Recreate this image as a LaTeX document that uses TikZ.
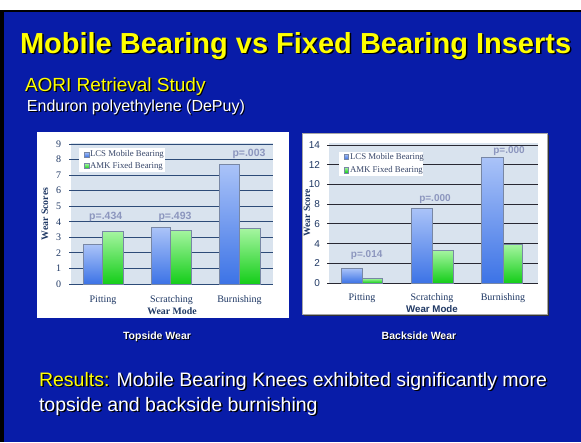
\documentclass[tikz,border=0pt]{standalone}
\usepackage{fontspec}
\setmainfont{Liberation Serif}
\newfontfamily\arial{Liberation Sans}
\definecolor{slide}{RGB}{8,28,168}
\definecolor{ttl}{RGB}{255,255,0}
\definecolor{plotbg}{RGB}{217,227,238}
\definecolor{gridL}{RGB}{45,75,120}
\definecolor{gridR}{RGB}{40,40,50}
\definecolor{navy}{RGB}{31,56,100}
\definecolor{pval}{RGB}{140,150,190}
\definecolor{blueT}{RGB}{170,195,248}
\definecolor{blueB}{RGB}{60,115,230}
\definecolor{greenT}{RGB}{165,245,160}
\definecolor{greenB}{RGB}{20,205,25}
\definecolor{baredge}{RGB}{120,135,165}
\definecolor{legtxt}{RGB}{55,70,105}
\tikzset{
  t/.style={inner sep=0pt, outer sep=0pt},
  bluebar/.style={top color=blueT, bottom color=blueB, draw=baredge, line width=0.6pt},
  greenbar/.style={top color=greenT, bottom color=greenB, draw=baredge, line width=0.6pt},
  tickL/.style={t, anchor=east, text=navy, font=\fontsize{10}{12}\selectfont},
  tickR/.style={t, anchor=east, text=navy, font=\arial\fontsize{10}{12}\selectfont},
  catL/.style={t, anchor=base, text=navy, font=\fontsize{10}{12}\selectfont},
  pv/.style={t, text=pval, font=\arial\bfseries\fontsize{10.5}{12}\selectfont},
  legt/.style={t, anchor=west, text=legtxt, font=\fontsize{8.8}{10}\selectfont},
}
\begin{document}
\begin{tikzpicture}[x=1pt,y=-1pt]
\useasboundingbox (0,0) rectangle (581,442);
% frame
\fill[white] (0,0) rectangle (581,442);
\fill[black] (0,10) rectangle (581,442);
\fill[slide] (4,12) rectangle (581,442);
% title
\node[t, anchor=base west, text=black, font=\arial\bfseries\fontsize{29}{34}\selectfont] (titleS) at (21.5,54.5) {Mobile Bearing vs Fixed Bearing Inserts};
\node[t, anchor=base west, text=ttl, font=\arial\bfseries\fontsize{29}{34}\selectfont] (title) at (20,53) {Mobile Bearing vs Fixed Bearing Inserts};
\node[t, anchor=base west, text=black, font=\arial\fontsize{19}{22}\selectfont] (sub1S) at (26.2,92.2) {AORI Retrieval Study};
\node[t, anchor=base west, text=ttl, font=\arial\fontsize{19}{22}\selectfont] (sub1) at (25,91) {AORI Retrieval Study};
\node[t, anchor=base west, text=black, font=\arial\fontsize{16}{19}\selectfont] (sub2S) at (28.2,112.2) {Enduron polyethylene (DePuy)};
\node[t, anchor=base west, text=white, font=\arial\fontsize{16}{19}\selectfont] (sub2) at (27,111) {Enduron polyethylene (DePuy)};

% ---------------- left chart ----------------
\fill[white] (37,132) rectangle (289,318);
\fill[plotbg] (71,143) rectangle (273,284);
\foreach \v in {0,...,9}{
  \draw[gridL, line width=0.9pt] (69,{284-15.56*\v}) -- (273,{284-15.56*\v});
  \node[tickL] (lt\v) at (61,{284-15.56*\v}) {\v};
}
\path[bluebar]  (83.3,284) rectangle (102.7,244.7);
\path[greenbar] (102.7,284) rectangle (123.3,231.3);
\path[bluebar]  (151.7,284) rectangle (170.7,227.7);
\path[greenbar] (170.7,284) rectangle (191.7,230);
\path[bluebar]  (219.3,284) rectangle (239.3,164.3);
\path[greenbar] (239.3,284) rectangle (260,228.7);
% legend
\fill[white] (79,148) rectangle (165,172);
\path[bluebar, line width=0.3pt] (84.3,152) rectangle (89,157);
\path[greenbar, line width=0.3pt] (84.3,163.5) rectangle (89,168.5);
\node[legt] (ll1) at (90,154.5) {LCS Mobile Bearing};
\node[legt] (ll2) at (90,166) {AMK Fixed Bearing};
% p values
\node[pv] (lp1) at (105.7,217) {p=.434};
\node[pv] (lp2) at (175,217) {p=.493};
\node[pv] (lp3) at (249,154) {p=.003};
% labels
\node[catL] (lc1) at (103,302.5) {Pitting};
\node[catL] (lc2) at (171.5,302.5) {Scratching};
\node[catL] (lc3) at (239.5,302.5) {Burnishing};
\node[t, anchor=base, text=navy, font=\bfseries\fontsize{9.8}{11}\selectfont] (lxa) at (172,314.5) {Wear Mode};
\node[t, rotate=90, text=navy, font=\bfseries\fontsize{9.8}{11}\selectfont] (lya) at (45,214) {Wear Scores};

% ---------------- right chart ----------------
\fill[black!80] (303.5,134.5) rectangle (548.5,315.5);
\filldraw[fill=white, draw=gray!70, line width=0.6pt] (302,133) rectangle (547,314);
\fill[plotbg] (329,143) rectangle (538,283);
\foreach \v in {0,2,...,14}{
  \draw[gridR, line width=0.9pt] (327,{283-9.857*\v}) -- (538,{283-9.857*\v});
  \node[tickR] (rt\v) at (320,{283-9.857*\v}) {\v};
}
\path[bluebar]  (341,283) rectangle (362.7,268.3);
\path[greenbar] (362.7,283) rectangle (382.7,278.3);
\path[bluebar]  (411,283) rectangle (432.3,208.3);
\path[greenbar] (432.3,283) rectangle (453.3,250.3);
\path[bluebar]  (481.7,283) rectangle (503.3,157.3);
\path[greenbar] (503.3,283) rectangle (522.7,244.3);
% legend
\fill[white] (339,152) rectangle (423,176);
\path[bluebar, line width=0.3pt] (344,154) rectangle (348.5,159.3);
\path[greenbar, line width=0.3pt] (344,167.5) rectangle (348.5,172.8);
\node[legt] (rl1) at (350,157) {LCS Mobile Bearing};
\node[legt] (rl2) at (350,170.5) {AMK Fixed Bearing};
% p values
\node[pv, font=\arial\bfseries\fontsize{10}{12}\selectfont] (rp1) at (366.7,255) {p=.014};
\node[pv, font=\arial\bfseries\fontsize{10}{12}\selectfont] (rp2) at (435,199) {p=.000};
\node[pv, font=\arial\bfseries\fontsize{10}{12}\selectfont] (rp3) at (509,151) {p=.000};
% labels
\node[catL] (rc1) at (362,300.5) {Pitting};
\node[catL] (rc2) at (432,300.5) {Scratching};
\node[catL] (rc3) at (503,300.5) {Burnishing};
\node[t, anchor=base, text=navy, font=\arial\bfseries\fontsize{9.7}{11}\selectfont] (rxa) at (432,312.5) {Wear Mode};
\node[t, rotate=90, text=navy, font=\bfseries\fontsize{9.6}{11}\selectfont] (rya) at (307,213) {Wear Score};

% captions
\node[t, text=black, font=\arial\bfseries\fontsize{10.5}{12}\selectfont] (cap1S) at (157.8,337.8) {Topside Wear};
\node[t, text=white, font=\arial\bfseries\fontsize{10.5}{12}\selectfont] (cap1) at (157,337) {Topside Wear};
\node[t, text=black, font=\arial\bfseries\fontsize{10.5}{12}\selectfont] (cap2S) at (419.8,336.3) {Backside Wear};
\node[t, text=white, font=\arial\bfseries\fontsize{10.5}{12}\selectfont] (cap2) at (419,335.5) {Backside Wear};

% results
\node[t, anchor=base west, text=black, font=\arial\fontsize{19.5}{23}\selectfont] (res1S) at (40.5,387.5) {Results: Mobile Bearing Knees exhibited significantly more};
\node[t, anchor=base west, text=white, font=\arial\fontsize{19.5}{23}\selectfont] (res1) at (39,386) {\textcolor{ttl}{Results:} Mobile Bearing Knees exhibited significantly more};
\node[t, anchor=base west, text=black, font=\arial\fontsize{19.5}{23}\selectfont] (res2S) at (40.5,412.5) {topside and backside burnishing};
\node[t, anchor=base west, text=white, font=\arial\fontsize{19.5}{23}\selectfont] (res2) at (39,411) {topside and backside burnishing};
\end{tikzpicture}
\end{document}
